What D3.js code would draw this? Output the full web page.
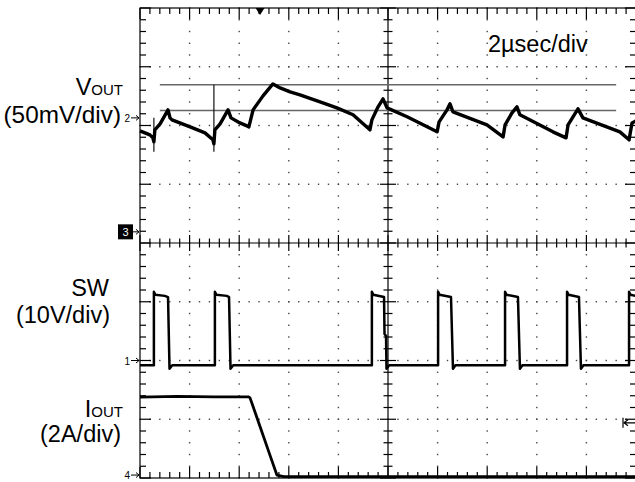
<!DOCTYPE html>
<html>
<head>
<meta charset="utf-8">
<script src="https://cdn.jsdelivr.net/npm/d3@7"></script>
<style>
  body { margin: 0; background: #fff; }
  svg { display: block; }
  text { font-family: "Liberation Sans", Arial, Helvetica, sans-serif; fill: #000; }
</style>
</head>
<body>
<svg id="scope" width="635" height="482"></svg>
<script>
// time axis in µs (2 µs/div, 10 div), values in each channel's own unit

// VOUT, mV from the channel 2 marker (50 mV/div)
const voutTrace = [
  [0.00, -11.1], [0.40, -14.5], [0.52, -17.0], [0.56, -20.4], [0.60, -10.2], [0.81, -5.1],
  [1.13, 6.8], [1.21, 0.0], [1.29, -1.7], [2.02, -7.7], [2.62, -12.8], [2.94, -18.7],
  [2.98, -22.1], [3.02, -10.2], [3.23, -5.1], [3.55, 6.8], [3.67, 0.0], [4.03, -4.3],
  [4.31, -6.8], [4.39, -7.7], [4.56, 6.8], [4.96, 18.7], [5.36, 28.9], [5.65, 25.5],
  [6.05, 22.1], [6.45, 19.6], [7.26, 13.6], [7.94, 8.5], [8.59, 2.6], [9.27, -10.2],
  [9.35, -1.7], [9.60, 9.4], [9.80, 16.2], [9.96, 8.5], [10.77, 0.9], [11.98, -11.9],
  [12.06, -3.4], [12.38, 6.8], [12.50, 11.9], [12.62, 5.1], [13.99, -6.0], [14.64, -16.2],
  [14.72, -6.0], [15.00, 4.3], [15.20, 9.4], [15.32, 2.6], [16.65, -11.9], [17.18, -17.0],
  [17.26, -6.0], [17.66, 7.7], [17.86, 0.0], [19.35, -11.9], [19.72, -18.7], [19.84, -4.3],
  [20.00, -2.6]
];
// thin spikes on VOUT
const voutGlitches = [
  [[0.56, 0.0], [0.56, -28.9]],
  [[2.98, 28.1], [2.98, -28.9]]
];
// horizontal cursors, mV
const cursorLevels = [28.1, 6.2];
const cursorSpan = [0.8, 19.2];

// SW, volts (10 V/div)
const swTrace = [
  [0.00, -0.8], [0.56, -0.8], [0.56, 11.7], [0.62, 11.2], [1.00, 11.0], [1.13, 10.8], [1.19, -1.4], [1.30, -0.8],
  [3.02, -0.8], [3.02, 11.7], [3.08, 11.2], [3.50, 11.0], [3.59, 10.8], [3.65, -1.4], [3.76, -0.8],
  [9.35, -0.8], [9.35, 11.7], [9.41, 11.2], [9.84, 10.8], [9.86, 4.5], [9.92, 4.2], [9.94, -1.4], [10.05, -0.8],
  [12.02, -0.8], [12.02, 11.7], [12.08, 11.2], [12.54, 10.8], [12.62, -1.4], [12.72, -0.8],
  [14.72, -0.8], [14.72, 11.7], [14.78, 11.2], [15.24, 10.8], [15.32, -1.4], [15.42, -0.8],
  [17.22, -0.8], [17.22, 11.7], [17.28, 11.2], [17.70, 10.8], [17.78, -1.4], [17.88, -0.8],
  [19.72, -0.8], [19.72, 11.7], [19.78, 11.2], [20.00, 11.0]
];

// IOUT, amps (2 A/div)
const ioutTrace = [
  [0.00, 2.65], [1.50, 2.68], [3.00, 2.66], [4.39, 2.66], [4.44, 2.62], [4.64, 2.14],
  [4.92, 1.46], [5.24, 0.68], [5.52, 0.00], [5.80, -0.05], [20.00, -0.05]
];

// channel reference (divisions from centre) and scale per division
const chRef = { '1': -2.0, '2': 2.13, '3': 0.19, '4': -3.95 };
const chPerDiv = { '1': 10, '2': 50, '4': 2 };
const triggerTime = 4.84;
const triggerLevelDiv = -3.06;

const x = d3.scaleLinear().domain([0, 20]).range([140, 636]);
const y = d3.scaleLinear().domain([-4, 4]).range([478, 8]);
const svg = d3.select('#scope');

const minorT = d3.range(0, 51).map(i => i * 0.4);        // every 0.4 µs
const minorD = d3.range(0, 41).map(i => -4 + i * 0.2);   // every 0.2 div
const isMajorT = t => Math.abs(t / 2 - Math.round(t / 2)) < 1e-6;
const isMajorD = d => Math.abs(d - Math.round(d)) < 1e-6;

// dotted graticule
const dots = svg.append('g').attr('fill', '#444');
d3.range(1, 10).filter(i => i !== 5).forEach(i => {
  const t = i * 2;
  minorD.forEach(d => dots.append('rect')
    .attr('x', x(t) - 0.7).attr('y', y(d) - 0.7).attr('width', 1.4).attr('height', 1.4));
});
d3.range(-3, 4).filter(d => d !== 0).forEach(d => {
  minorT.forEach(t => dots.append('rect')
    .attr('x', x(t) - 0.7).attr('y', y(d) - 0.7).attr('width', 1.4).attr('height', 1.4));
});

// border, centre axes and ticks
const frame = svg.append('g').attr('stroke', '#000').attr('stroke-width', 1.2).attr('fill', 'none');
frame.append('rect').attr('x', x(0)).attr('y', y(4)).attr('width', x(20) - x(0)).attr('height', y(-4) - y(4));
frame.append('line').attr('x1', x(10)).attr('x2', x(10)).attr('y1', y(4)).attr('y2', y(-4));
frame.append('line').attr('x1', x(0)).attr('x2', x(20)).attr('y1', y(0)).attr('y2', y(0));

minorT.forEach(t => {
  const len = isMajorT(t) ? 11 : 6;
  const c = isMajorT(t) ? 8 : 4.5;
  frame.append('line').attr('x1', x(t)).attr('x2', x(t)).attr('y1', y(4)).attr('y2', y(4) + len);
  frame.append('line').attr('x1', x(t)).attr('x2', x(t)).attr('y1', y(-4)).attr('y2', y(-4) - len);
  frame.append('line').attr('x1', x(t)).attr('x2', x(t)).attr('y1', y(0) - c).attr('y2', y(0) + c);
});
minorD.forEach(d => {
  const len = isMajorD(d) ? 11 : 6;
  const c = isMajorD(d) ? 8 : 4.5;
  frame.append('line').attr('y1', y(d)).attr('y2', y(d)).attr('x1', x(0)).attr('x2', x(0) + len);
  frame.append('line').attr('y1', y(d)).attr('y2', y(d)).attr('x1', x(20)).attr('x2', x(20) - len);
  frame.append('line').attr('y1', y(d)).attr('y2', y(d)).attr('x1', x(10) - c).attr('x2', x(10) + c);
});

// cursors
cursorLevels.forEach(v => {
  svg.append('line')
    .attr('x1', x(cursorSpan[0])).attr('x2', x(cursorSpan[1]))
    .attr('y1', y(chRef['2'] + v / chPerDiv['2'])).attr('y2', y(chRef['2'] + v / chPerDiv['2']))
    .attr('stroke', '#666').attr('stroke-width', 1.5);
});

// traces
function lineFor(ch) {
  return d3.line().x(d => x(d[0])).y(d => y(chRef[ch] + d[1] / chPerDiv[ch]));
}
voutGlitches.forEach(g => {
  svg.append('path').attr('d', lineFor('2')(g))
    .attr('fill', 'none').attr('stroke', '#111').attr('stroke-width', 1.2);
});
svg.append('path').attr('d', lineFor('2')(voutTrace))
  .attr('fill', 'none').attr('stroke', '#000').attr('stroke-width', 3.4).attr('stroke-linejoin', 'round');
svg.append('path').attr('d', lineFor('1')(swTrace))
  .attr('fill', 'none').attr('stroke', '#000').attr('stroke-width', 2.5).attr('stroke-linejoin', 'round');
svg.append('path').attr('d', lineFor('4')(ioutTrace))
  .attr('fill', 'none').attr('stroke', '#000').attr('stroke-width', 2.8).attr('stroke-linejoin', 'round');

// trigger position and level markers
const tx = x(triggerTime);
svg.append('path').attr('d', `M${tx - 4.5},${y(4)}L${tx + 4.5},${y(4)}L${tx},${y(4) + 7}Z`).attr('fill', '#000');
const ty = y(triggerLevelDiv);
svg.append('path')
  .attr('d', `M${x(20) - 12},${ty}L${x(20)},${ty}M${x(20) - 12},${ty}L${x(20) - 8},${ty - 3}M${x(20) - 12},${ty}L${x(20) - 8},${ty + 3}M${x(20) - 13},${ty - 5}L${x(20) - 13},${ty + 5}`)
  .attr('stroke', '#000').attr('stroke-width', 1.2).attr('fill', 'none');

// channel ground markers on the left edge
Object.keys(chRef).forEach(ch => {
  const my = y(chRef[ch]);
  svg.append('path')
    .attr('d', `M${x(0) - 9},${my}L${x(0) - 1},${my}M${x(0) - 4},${my - 2.5}L${x(0) - 1},${my}L${x(0) - 4},${my + 2.5}`)
    .attr('stroke', '#000').attr('stroke-width', 1).attr('fill', 'none');
  if (ch === '3') {
    svg.append('rect').attr('x', x(0) - 22).attr('y', my - 7.5).attr('width', 15).attr('height', 15).attr('fill', '#000');
    svg.append('text').attr('x', x(0) - 14.5).attr('y', my + 4).attr('text-anchor', 'middle')
      .style('font-size', '11px').style('fill', '#fff').text(ch);
  } else {
    svg.append('text').attr('x', x(0) - 10).attr('y', my + 4).attr('text-anchor', 'end')
      .style('font-size', '10px').text(ch);
  }
});

// channel labels
function label(xr, yb, main, sub, size) {
  const t = svg.append('text').attr('x', xr).attr('y', yb).attr('text-anchor', 'end').style('font-size', size + 'px');
  t.append('tspan').text(main);
  if (sub) t.append('tspan').style('font-size', '15px').text(sub);
}
label(123, 95, 'V', 'OUT', 23.5);
label(121, 123, '(50mV/div)', null, 24.3);
label(109, 296, 'SW', null, 23.5);
label(110, 323, '(10V/div)', null, 23.5);
label(123, 417, 'I', 'OUT', 23.5);
label(121, 442, '(2A/div)', null, 23.5);

svg.append('text').attr('x', 488).attr('y', 52).style('font-size', '23.5px').text('2µsec/div');
</script>
</body>
</html>
